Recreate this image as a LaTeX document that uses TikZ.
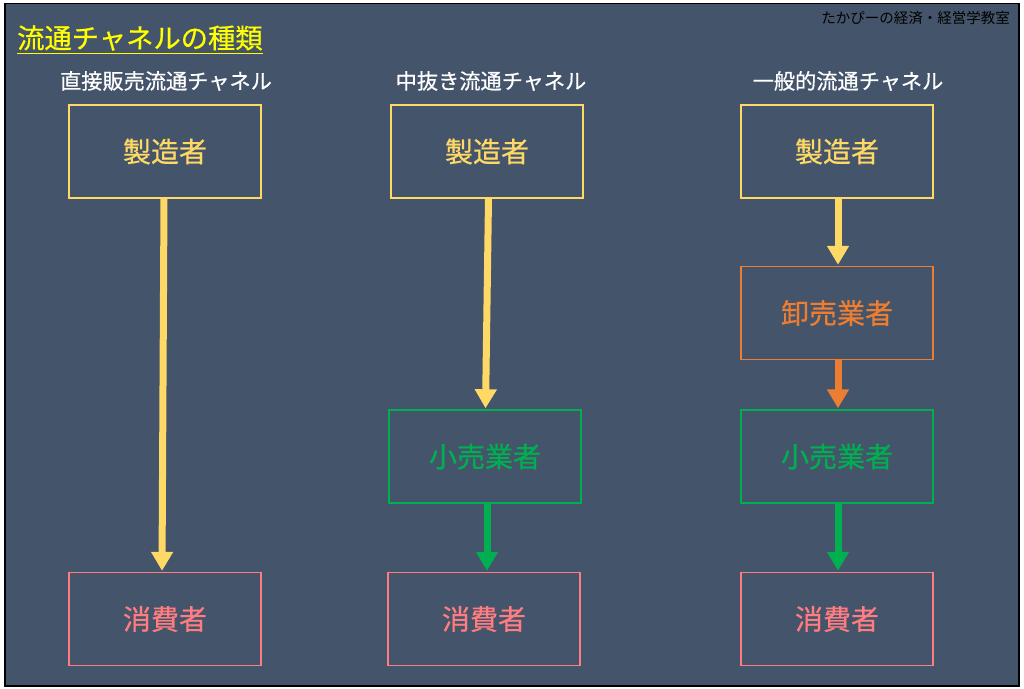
\documentclass[tikz,border=0pt]{standalone}
\usepackage{fontspec}
\setmainfont{Noto Sans CJK JP}
\newfontfamily\jp{Noto Sans CJK JP}
\newfontfamily\jpm[FakeBold=0.6]{Noto Sans CJK JP}
\usetikzlibrary{arrows.meta}
\definecolor{bg}{HTML}{44546A}
\definecolor{cyel}{HTML}{FFD966}
\definecolor{corg}{HTML}{ED7D31}
\definecolor{cgrn}{HTML}{00B050}
\definecolor{cpnk}{HTML}{FF7C80}
\definecolor{ttl}{HTML}{FFFF00}
\tikzset{
  box/.style={draw, line width=1.4pt, minimum width=192pt, minimum height=93pt, inner sep=0pt, font=\jpm\fontsize{28}{30}\selectfont},
  hdr/.style={text=white, font=\jpm\fontsize{21.2}{23}\selectfont, inner sep=0pt},
  arr/.style={line width=7pt, -{Triangle[width=21pt,length=19pt]}, shorten >=1pt},
}
\begin{document}
\begin{tikzpicture}[x=1pt,y=-1pt]
\useasboundingbox (0,0) rectangle (1024,688);
\fill[white] (0,0) rectangle (1024,688);
\draw[fill=bg, draw=black, line width=1.5pt] (5,3.5) rectangle (1019,686);
% title
\node[anchor=west, text=ttl, font=\jpm\fontsize{27.3}{29}\selectfont, inner sep=0pt] (title) at (17,38) {流通チャネルの種類};
\draw[ttl, line width=1.5pt] (title.south west) ++(0,2.5) coordinate (ul1) -- (ul1 -| title.south east);
\node[anchor=east, text=black, font=\jp\fontsize{14.5}{16}\selectfont, inner sep=0pt] (wm) at (1010,18) {たかぴーの経済・経営学教室};
% headers
\node[hdr] (h1) at (166,81) {直接販売流通チャネル};
\node[hdr] (h2) at (491,81) {中抜き流通チャネル};
\node[hdr] (h3) at (848,81) {一般的流通チャネル};
% column 1
\node[box, draw=cyel, text=cyel] (m1) at (165,151.5) {製造者};
\node[box, draw=cpnk, text=cpnk] (c1) at (165,619) {消費者};
% column 2
\node[box, draw=cyel, text=cyel] (m2) at (487,151.5) {製造者};
\node[box, draw=cgrn, text=cgrn] (r2) at (485,456.5) {小売業者};
\node[box, draw=cpnk, text=cpnk] (c2) at (484,619) {消費者};
% column 3
\node[box, draw=cyel, text=cyel] (m3) at (837,151.5) {製造者};
\node[box, draw=corg, text=corg] (w3) at (837,313) {卸売業者};
\node[box, draw=cgrn, text=cgrn] (r3) at (837,456.5) {小売業者};
\node[box, draw=cpnk, text=cpnk] (c3) at (837,619) {消費者};
% arrows
\draw[arr, cyel] ([xshift=-1pt]m1.south) -- ([xshift=-3pt]c1.north);
\draw[arr, cyel] ([xshift=1.5pt]m2.south) -- ([xshift=0.5pt]r2.north);
\draw[arr, cgrn] ([xshift=2pt]r2.south) -- ([xshift=3pt]c2.north);
\draw[arr, cyel] ([xshift=1pt]m3.south) -- ([xshift=1pt]w3.north);
\draw[arr, corg] ([xshift=1pt]w3.south) -- ([xshift=1pt]r3.north);
\draw[arr, cgrn] ([xshift=1pt]r3.south) -- ([xshift=1pt]c3.north);
\end{tikzpicture}
\end{document}
